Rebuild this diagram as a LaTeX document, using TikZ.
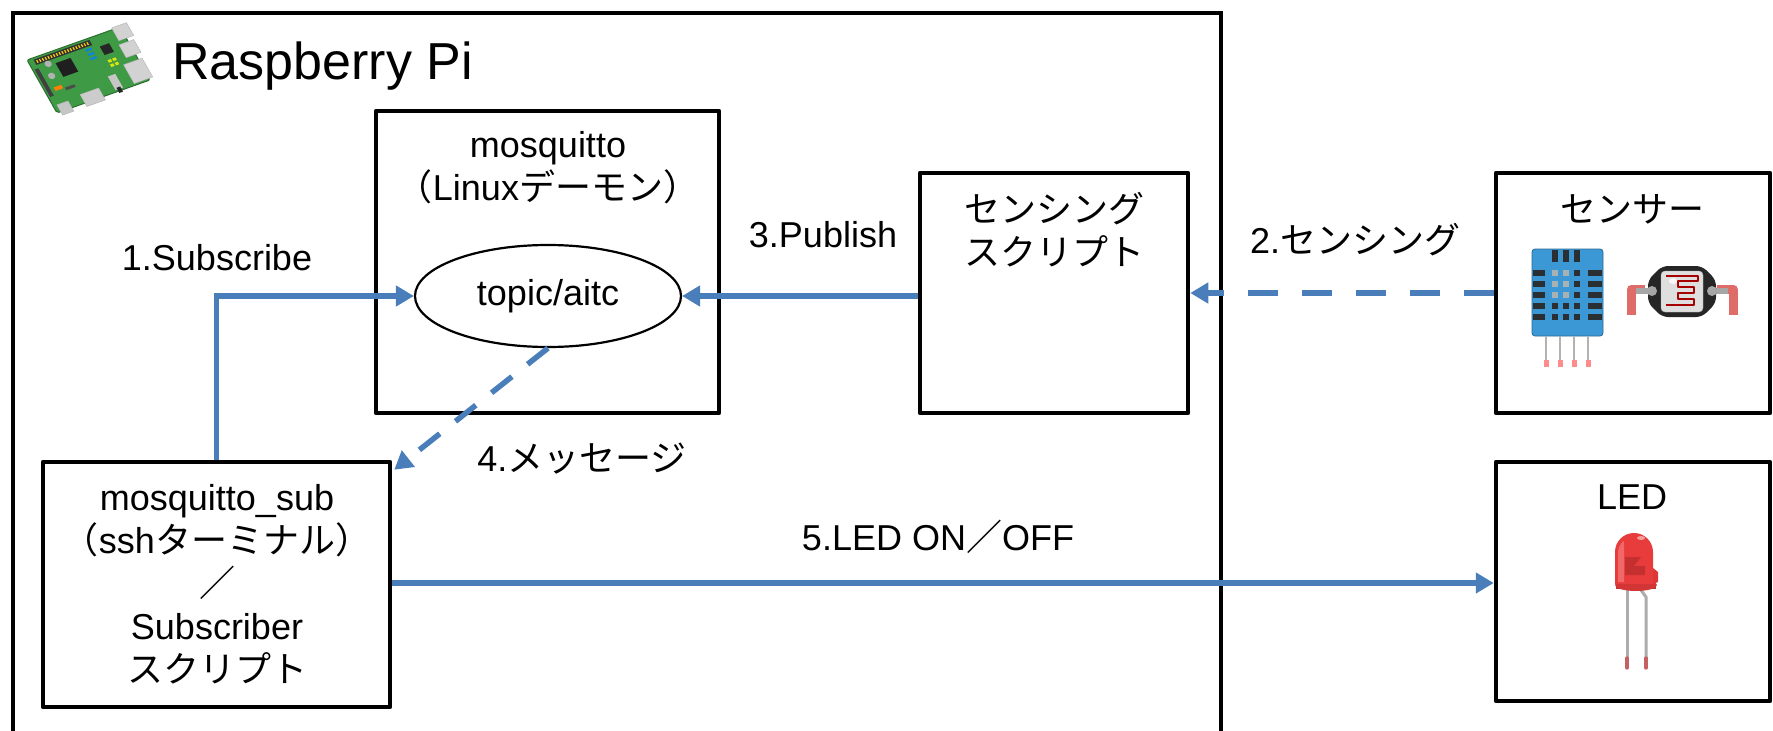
\documentclass[tikz,border=0pt]{standalone}
\usepackage{fontspec}
\setmainfont{Liberation Sans}
\newfontfamily\jp{Noto Sans CJK JP}
\usetikzlibrary{arrows.meta,shapes.geometric,calc}
\definecolor{flow}{HTML}{4A7EBB}
\definecolor{pcb}{HTML}{3E9A45}
\definecolor{pcbedge}{HTML}{2B6E30}
\definecolor{dhtblue}{HTML}{3C98D4}
\definecolor{dhtslot}{HTML}{2A2F34}
\definecolor{dhtlight}{HTML}{A7B2B5}
\definecolor{ledred}{HTML}{E83B3B}
\definecolor{ledlight}{HTML}{F27474}
\definecolor{leddark}{HTML}{B52A2A}
\definecolor{legtip}{HTML}{C46262}
\definecolor{ldrleg}{HTML}{D9534F}

\begin{document}
\begin{tikzpicture}[x=1pt,y=-1pt,
  lbl/.style={font=\fontsize{36}{43}\selectfont, inner sep=0pt, align=center},
  boxnode/.style={draw=black, line width=4.5pt, line join=round, inner sep=0pt},
  flowline/.style={draw=flow, line width=5.5pt, -{Triangle[length=18pt,width=20pt]}},
  flowdash/.style={flowline, dash pattern=on 30pt off 24pt}]

\useasboundingbox (0,0) rectangle (1773,731);
\clip (0,0) rectangle (1773,731);
\fill[white] (0,0) rectangle (1773,731);

% Raspberry Pi enclosure (runs past the lower edge)
\node[draw=black, line width=3.5pt, inner sep=0pt, anchor=north west,
      minimum width=1208pt, minimum height=800pt] (pi) at (11,11) {};

% ---- board icon, drawn flat and slanted by cm ----
\begin{scope}[cm={0.93,0.33,-0.484,0.855,(27,60)}]
  \fill[pcb, draw=pcbedge, line width=1pt, rounded corners=2pt] (0,0) rectangle (100,62);
  % GPIO header
  \fill[black!80] (6,2) rectangle (66,8);
  \foreach \u in {8,11,...,64} \fill[yellow!70!orange] (\u,3.5) rectangle ++(1.2,3);
  % display connector
  \fill[black!75] (2,12) rectangle (6,44);
  % capacitors
  \fill[gray!60] (17,11) circle[radius=3.5];
  \fill[gray!60] (14,24) circle[radius=3.5];
  % SoC
  \fill[black!88] (24,13) rectangle (40,29);
  % small parts
  \foreach \v in {10,15,20} \fill[cyan!70!blue] (57,\v) rectangle ++(7,2.5);
  \fill[black!85] (72,12) rectangle (82,22);
  \foreach \v in {28,33} \foreach \u in {72,77} \fill[yellow!85!green] (\u,\v) rectangle ++(3.5,3);
  \fill[orange] (10,36) rectangle (18,40);
  \fill[black!70] (20,40) rectangle (30,43);
  % USB and ethernet
  \fill[gray!35, draw=gray!60] (92,-2) rectangle (108,13);
  \fill[gray!35, draw=gray!60] (90,17) rectangle (106,32);
  \fill[gray!35, draw=gray!60] (84,38) rectangle (104,60);
  % audio jack
  \fill[gray!45] (64,44) rectangle (72,60);
  \fill[black!85] (66,58) rectangle (70,64);
  % HDMI and power
  \fill[gray!40, draw=gray!60] (30,52) rectangle (50,66);
  \fill[gray!45, draw=gray!60] (4,54) rectangle (16,66);
\end{scope}

\node[anchor=west, inner sep=0pt, font=\fontsize{52}{60}\selectfont] (pititle) at (172,66) {Raspberry Pi};

% ---- boxes ----
\node[boxnode, minimum width=343pt, minimum height=302pt] (mq) at (547.5,262) {};
\node[boxnode, minimum width=268pt, minimum height=240pt] (sens) at (1054,293) {};
\node[boxnode, minimum width=274pt, minimum height=240pt] (sensor) at (1633,293) {};
\node[boxnode, minimum width=274pt, minimum height=239pt] (led) at (1633,581.5) {};
\node[boxnode, minimum width=347pt, minimum height=245pt] (sub) at (216.5,584.5) {};

\node[draw=black, line width=2.2pt, ellipse, inner sep=0pt,
      minimum width=266pt, minimum height=102pt] (topic) at (548,296) {};

% ---- box texts ----
\node[lbl] (mqtxt) at (548,168) {mosquitto\\{\jp （}Linux{\jp デーモン）}};
\node[lbl] (topictxt) at (topic.center) {topic/aitc};
\node[lbl] (senstxt) at (1054,230) {\jp センシング\\\jp スクリプト};
\node[lbl] (sensortxt) at (1632,209) {\jp センサー};
\node[lbl] (ledtxt) at (1632,497) {LED};
\node[lbl] (subtxt) at (217,584) {mosquitto\_sub\\{\jp （}ssh{\jp ターミナル）}\\{\jp ／}\\Subscriber\\{\jp スクリプト}};

% ---- sensor icons ----
% temperature / humidity module
\fill[dhtblue, draw=dhtblue!70!black, line width=0.8pt, rounded corners=3pt] (1532,249) rectangle (1603,336);
\foreach \x in {1552,1563,1574} \fill[dhtslot] (\x,250) rectangle ++(6,12);
\foreach \y [count=\r] in {270,281,292,303,314} {
  \fill[dhtslot] (1533,\y) rectangle (1545,\y+6);
  \fill[dhtslot] (1588,\y) rectangle (1602,\y+6);
  \foreach \x [count=\c] in {1552,1563,1574} {
    \ifnum\r<4 \ifnum\c<3 \fill[dhtlight] (\x,\y) rectangle ++(6,6); \else \fill[dhtslot] (\x,\y) rectangle ++(6,6); \fi
    \else \fill[dhtslot] (\x,\y) rectangle ++(6,6); \fi
  }
}
\foreach \x in {1546,1560,1574,1588} {
  \draw[gray!60, line width=2.5pt] (\x,336) -- (\x,361);
  \fill[red!45] (\x-2.5,360) rectangle (\x+2.5,367);
}
% light dependent resistor
\draw[ldrleg, opacity=0.85, line width=9pt, line join=round] (1645,289) -- (1631,289) -- (1631,315);
\draw[ldrleg, opacity=0.85, line width=9pt, line join=round] (1717,289) -- (1733,289) -- (1733,315);
\draw[gray!70, line width=6pt] (1636,291) -- (1728,291);
\fill[black!85, rounded corners=6pt] (1662,266) -- (1702,266) -- (1716,280) -- (1716,303)
  -- (1702,317) -- (1662,317) -- (1648,303) -- (1648,280) -- cycle;
\fill[gray!70] (1652,291) circle[radius=5pt];
\fill[gray!70] (1712,291) circle[radius=5pt];
\fill[gray!25, draw=gray!60, rounded corners=4pt] (1661,271) rectangle (1703,312);
\draw[red!65!black, line width=1.6pt, line join=round]
  (1666,276) -- (1698,276) -- (1698,281) -- (1678,281) -- (1678,287) -- (1694,287)
  -- (1694,293) -- (1678,293) -- (1678,299) -- (1694,299) -- (1694,305) -- (1666,305);
\fill[white, opacity=0.8] (1673,281) ellipse[x radius=4pt, y radius=3pt];

% ---- LED icon ----
\draw[gray!65, line width=3pt] (1627,586) -- (1627,668);
\draw[gray!65, line width=3pt, line join=round] (1638,586) -- (1646,597) -- (1646,668);
\draw[legtip, line width=3.2pt, line cap=round] (1627,658) -- (1627,668);
\draw[legtip, line width=3.2pt, line cap=round] (1646,658) -- (1646,668);
\fill[ledred!85!black] (1616,578) rectangle (1656,589);
\fill[ledred!90!black] (1636,585) ellipse[x radius=21pt, y radius=6pt];
\fill[ledred] (1615,584) -- (1615,552) arc[start angle=180, end angle=0, x radius=19pt, y radius=19pt] -- (1653,584) -- cycle;
\fill[ledred!95!black] (1653,568) -- (1658,572) -- (1658,582) -- (1653,584) -- cycle;
\fill[ledlight, opacity=0.8] (1618,582) -- (1618,553) arc[start angle=180, end angle=130, x radius=16pt, y radius=16pt] -- (1624,545) -- (1624,582) -- cycle;
\fill[leddark, opacity=0.7] (1625,557) -- (1641,557) -- (1634,566) -- (1645,566) -- (1645,575) -- (1625,575) -- cycle;
\fill[white, opacity=0.5] (1641,538) ellipse[x radius=4pt, y radius=2pt];

% ---- connectors ----
\draw[flowline] (sub.north) |- (topic.west);
\draw[flowline] (sens.west |- topic.east) -- (topic.east);
\draw[flowdash] (sensor.west) -- (sens.east);
\draw[flowdash, dash pattern=on 26pt off 20pt] (topic.south) -- ($(sub.north east)+(2,10)$);
\draw[flowline] (sub.east |- 0,583) -- (led.west |- 0,583);

% ---- connector labels ----
\node[lbl] (l1) at (217,258) {1.Subscribe};
\node[lbl] (l2) at (1355,240) {2.{\jp センシング}};
\node[lbl] (l3) at (823,235) {3.Publish};
\node[lbl] (l4) at (582,459) {4.{\jp メッセージ}};
\node[lbl] (l5) at (938,537) {5.LED ON{\jp ／}OFF};
\end{tikzpicture}
\end{document}
